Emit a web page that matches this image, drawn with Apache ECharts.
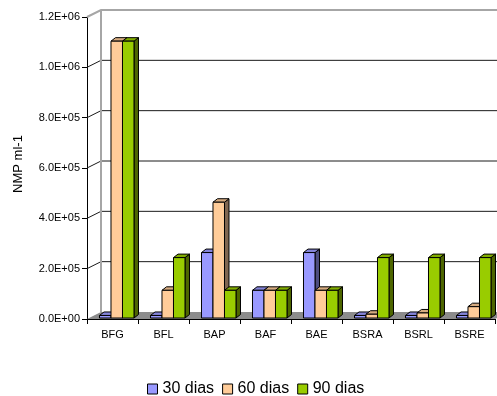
<!DOCTYPE html>
<html>
<head>
<meta charset="utf-8">
<script src="https://cdn.jsdelivr.net/npm/echarts@6/dist/echarts.min.js"></script>
<style>
  html, body { margin: 0; padding: 0; background: #fff; }
  #chart { width: 497px; height: 396px; }
</style>
</head>
<body>
<div id="chart"></div>
<script>
// Sample groups and counts (NMP ml-1) after 30, 60 and 90 days
const categories = ['BFG', 'BFL', 'BAP', 'BAF', 'BAE', 'BSRA', 'BSRL', 'BSRE'];
const seriesNames = ['30 dias', '60 dias', '90 dias'];
const dias30 = [1.0e4, 1.0e4, 2.6e5, 1.1e5, 2.6e5, 1.0e4, 1.0e4, 1.0e4];
const dias60 = [1.1e6, 1.1e5, 4.6e5, 1.1e5, 1.1e5, 1.5e4, 2.0e4, 4.5e4];
const dias90 = [1.1e6, 2.4e5, 1.1e5, 1.1e5, 1.1e5, 2.4e5, 2.4e5, 2.4e5];
const yTicks = [0, 2e5, 4e5, 6e5, 8e5, 1.0e6, 1.2e6];

const FONT = 'Liberation Sans, Arial, sans-serif';

// Face colours per series: front, top, side
const faces = [
  { front: '#9999ff', top: '#8484d8', side: '#4d4d80' },
  { front: '#ffcc99', top: '#d6ab80', side: '#806650' },
  { front: '#99cc00', top: '#82ad00', side: '#4d6600' }
];

// Depth of the back wall and of each column (3D look)
const WALL_DX = 14, WALL_DY = -7;
const BAR_DX = 4.5, BAR_DY = -3.5;
const BAR_LIFT = 1;

function sci(v) {
  const s = v.toExponential(1).toUpperCase();
  return s.replace(/E([+-])(\d)$/, 'E$10$2');
}

// Back wall, floor and grid lines
function renderWalls(params, api) {
  const cs = params.coordSys;
  const x0 = cs.x, x1 = cs.x + cs.width;
  const yZero = api.coord([0, 0])[1];
  const yTop = api.coord([0, yTicks[yTicks.length - 1]])[1];
  const children = [];
  children.push({
    type: 'polygon',
    shape: { points: [[x0, yZero], [x0 + WALL_DX, yZero + WALL_DY], [x1 + WALL_DX, yZero + WALL_DY], [x1, yZero]] },
    style: { fill: '#8c8c8c', stroke: null }
  });
  yTicks.forEach(function (t, i) {
    if (i === 0) return;
    const y = api.coord([0, t])[1];
    const last = i === yTicks.length - 1;
    const col = last ? '#a6a6a6' : '#1a1a1a';
    const lw = last ? 2 : 1;
    children.push({
      type: 'polyline',
      shape: { points: [[x0, y], [x0 + WALL_DX, y + WALL_DY], [x1 + WALL_DX, y + WALL_DY]] },
      style: { stroke: col, lineWidth: lw, fill: null }
    });
  });
  children.push({
    type: 'line',
    shape: { x1: x0 + WALL_DX, y1: yTop + WALL_DY, x2: x0 + WALL_DX, y2: yZero + WALL_DY },
    style: { stroke: '#a6a6a6', lineWidth: 2 }
  });
  return { type: 'group', children: children };
}

function barRenderer(si) {
  return function (params, api) {
    const idx = api.value(0);
    const v = api.value(1);
    const base = api.coord([idx, 0]);
    const top = api.coord([idx, v]);
    const band = api.size([1, 0])[0];
    const w = band * 0.2255;
    const xl = base[0] - band / 2 + band * 0.245 + si * w;
    const xr = xl + w;
    const yb = base[1] - BAR_LIFT;
    const yt = top[1] - BAR_LIFT;
    const f = faces[si];
    const line = { stroke: '#000', lineWidth: 1, lineJoin: 'round' };
    return {
      type: 'group',
      children: [
        { type: 'polygon', shape: { points: [[xr, yb], [xr + BAR_DX, yb + BAR_DY], [xr + BAR_DX, yt + BAR_DY], [xr, yt]] },
          style: Object.assign({ fill: f.side }, line) },
        { type: 'polygon', shape: { points: [[xl, yt], [xl + BAR_DX, yt + BAR_DY], [xr + BAR_DX, yt + BAR_DY], [xr, yt]] },
          style: Object.assign({ fill: f.top }, line) },
        { type: 'rect', shape: { x: xl, y: yt, width: w, height: yb - yt },
          style: Object.assign({ fill: f.front }, line) }
      ]
    };
  };
}

const seriesData = [dias30, dias60, dias90];

const series = [{
  type: 'custom',
  name: '_walls',
  z: 1,
  silent: true,
  renderItem: renderWalls,
  data: [[0, 0]]
}];
seriesData.forEach(function (arr, si) {
  series.push({
    type: 'custom',
    name: seriesNames[si],
    z: 2 + si,
    itemStyle: { color: faces[si].front },
    renderItem: barRenderer(si),
    data: arr.map(function (v, i) { return [i, v]; })
  });
});

const chart = echarts.init(document.getElementById('chart'), null, { renderer: 'canvas' });
chart.setOption({
  animation: false,
  backgroundColor: '#fff',
  textStyle: { fontFamily: FONT },
  grid: { left: 87, right: 2, top: 17, bottom: 77, containLabel: false },
  legend: {
    data: seriesNames,
    left: 142,
    top: 376,
    itemWidth: 10,
    itemHeight: 10,
    itemGap: 8,
    icon: 'rect',
    itemStyle: { borderColor: '#000', borderWidth: 1 },
    textStyle: { fontSize: 16, color: '#000', fontFamily: FONT }
  },
  xAxis: {
    type: 'category',
    data: categories,
    axisLine: { lineStyle: { color: '#000', width: 1 } },
    axisTick: { show: true, length: 5, lineStyle: { color: '#000' } },
    axisLabel: { fontSize: 11, color: '#000', margin: 10, fontFamily: FONT },
    splitLine: { show: false }
  },
  yAxis: {
    type: 'value',
    min: 0,
    max: 1.2e6,
    interval: 2e5,
    name: 'NMP ml-1',
    nameLocation: 'middle',
    nameRotate: 90,
    nameGap: 62,
    nameTextStyle: { fontSize: 13, color: '#000', fontFamily: FONT, padding: [0, 0, 0, 8] },
    axisLine: { show: true, lineStyle: { color: '#000', width: 1 } },
    axisTick: { show: true, length: 5, lineStyle: { color: '#000' } },
    axisLabel: { fontSize: 11, color: '#000', margin: 7, formatter: sci, fontFamily: FONT },
    splitLine: { show: false }
  },
  series: series
});
</script>
</body>
</html>
